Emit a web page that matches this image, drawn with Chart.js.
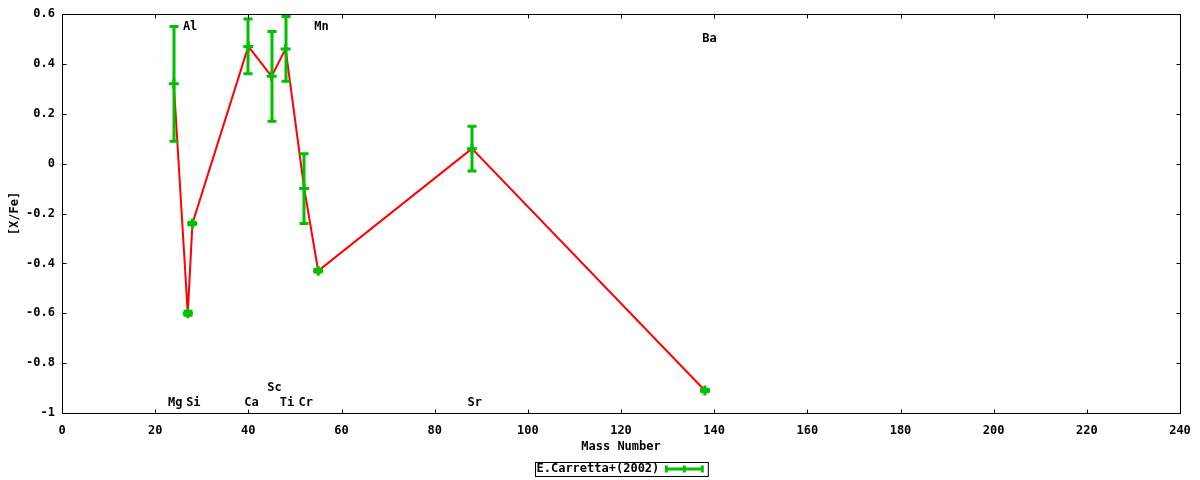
<!DOCTYPE html>
<html>
<head>
<meta charset="utf-8">
<script src="https://cdn.jsdelivr.net/npm/chart.js@4.4.0/dist/chart.umd.min.js"></script>
<style>
  body { margin: 0; background: #fff; }
  canvas { display: block; }
</style>
</head>
<body>
<canvas id="myChart" width="1200" height="480"></canvas>
<script>
// data
const massNumber = [24, 27, 28, 40, 45, 48, 52, 55, 88, 138];
const xFe = [0.32, -0.60, -0.24, 0.47, 0.35, 0.46, -0.10, -0.43, 0.06, -0.91];
const xFeErr = [0.23, 0.008, 0.005, 0.11, 0.18, 0.13, 0.14, 0.005, 0.09, 0.005];

// element labels (placed in data coordinates)
const elemNames = ['Mg', 'Al', 'Si', 'Ca', 'Sc', 'Ti', 'Cr', 'Mn', 'Sr', 'Ba'];
const elemLabelX = [24.3, 27.5, 28.2, 40.7, 45.6, 48.3, 52.3, 55.7, 88.6, 139.0];
const elemLabelY = [-0.96, 0.55, -0.96, -0.96, -0.9, -0.96, -0.96, 0.55, -0.96, 0.5];

const seriesName = 'E.Carretta+(2002)';
const GREEN = '#00c000';
const RED = '#ff0000';
const FONT = "bold 12px 'DejaVu Sans Mono', monospace";

Chart.defaults.font.family = "'DejaVu Sans Mono', monospace";
Chart.defaults.font.size = 12;
Chart.defaults.font.weight = 'bold';
Chart.defaults.color = '#000';

const points = massNumber.map((m, i) => ({ x: m, y: xFe[i] }));

// vertical error bars with caps
const errorBars = {
  id: 'errorBars',
  afterDatasetsDraw(chart) {
    const c = chart.ctx, xs = chart.scales.x, ys = chart.scales.y;
    c.save();
    c.strokeStyle = GREEN;
    c.lineWidth = 3;
    massNumber.forEach((m, i) => {
      const px = Math.round(xs.getPixelForValue(m));
      const top = ys.getPixelForValue(xFe[i] + xFeErr[i]);
      const bot = ys.getPixelForValue(xFe[i] - xFeErr[i]);
      c.beginPath();
      c.moveTo(px, top); c.lineTo(px, bot);
      c.moveTo(px - 4.5, top); c.lineTo(px + 4.5, top);
      c.moveTo(px - 4.5, bot); c.lineTo(px + 4.5, bot);
      c.stroke();
    });
    c.restore();
  }
};

// element names
const elemLabels = {
  id: 'elemLabels',
  afterDatasetsDraw(chart) {
    const c = chart.ctx, xs = chart.scales.x, ys = chart.scales.y;
    c.save();
    c.font = FONT;
    c.fillStyle = '#000';
    c.textAlign = 'center';
    c.textBaseline = 'middle';
    elemNames.forEach((n, i) => {
      c.fillText(n, xs.getPixelForValue(elemLabelX[i]), ys.getPixelForValue(elemLabelY[i]));
    });
    c.restore();
  }
};

// gnuplot-like border with inward ticks on all sides
const frame = {
  id: 'frame',
  afterDraw(chart) {
    const c = chart.ctx, a = chart.chartArea, xs = chart.scales.x, ys = chart.scales.y;
    const L = Math.round(a.left) + 0.5, R = Math.round(a.right) + 0.5;
    const T = Math.round(a.top) + 0.5, B = Math.round(a.bottom) + 0.5;
    c.save();
    c.strokeStyle = '#000';
    c.lineWidth = 1;
    c.strokeRect(L, T, R - L, B - T);
    c.beginPath();
    xs.ticks.forEach(t => {
      const px = Math.round(xs.getPixelForValue(t.value)) + 0.5;
      c.moveTo(px, B); c.lineTo(px, B - 4);
      c.moveTo(px, T); c.lineTo(px, T + 4);
    });
    ys.ticks.forEach(t => {
      const py = Math.round(ys.getPixelForValue(t.value)) + 0.5;
      c.moveTo(L, py); c.lineTo(L + 4, py);
      c.moveTo(R, py); c.lineTo(R - 4, py);
    });
    c.stroke();
    c.restore();
  }
};

// boxed key under the plot
const keyBox = {
  id: 'keyBox',
  afterDraw(chart) {
    const c = chart.ctx, a = chart.chartArea;
    c.save();
    c.font = FONT;
    const tw = c.measureText(seriesName).width;
    const symW = 36, gap = 8;
    const w = tw + gap + symW + 6, h = 14;
    const cx = (a.left + a.right) / 2, cy = 469;
    const x0 = Math.round(cx - w / 2) + 0.5, y0 = Math.round(cy - h / 2) + 0.5;
    c.strokeStyle = '#000';
    c.lineWidth = 1;
    c.strokeRect(x0, y0, w, h);
    c.fillStyle = '#000';
    c.textBaseline = 'middle';
    c.textAlign = 'left';
    c.fillText(seriesName, x0 + 1, cy);
    const s0 = x0 + tw + gap, s1 = s0 + symW;
    c.strokeStyle = GREEN;
    c.lineWidth = 3;
    c.beginPath();
    c.moveTo(s0, cy); c.lineTo(s1, cy);
    c.moveTo(s0, cy - 3.5); c.lineTo(s0, cy + 3.5);
    c.moveTo(s1, cy - 3.5); c.lineTo(s1, cy + 3.5);
    c.moveTo((s0 + s1) / 2, cy - 3.5); c.lineTo((s0 + s1) / 2, cy + 3.5);
    c.stroke();
    c.restore();
  }
};

new Chart(document.getElementById('myChart'), {
  type: 'scatter',
  data: {
    datasets: [{
      label: seriesName,
      data: points,
      showLine: false,
      pointStyle: 'cross',
      pointRadius: 5,
      borderWidth: 3,
      borderColor: GREEN,
      backgroundColor: GREEN,
      order: 1
    }, {
      label: 'line',
      data: points,
      showLine: true,
      tension: 0,
      pointRadius: 0,
      borderWidth: 2,
      borderColor: RED,
      order: 2
    }]
  },
  options: {
    responsive: false,
    animation: false,
    layout: { padding: { left: 0, right: 20, top: 14, bottom: 22 } },
    plugins: {
      legend: { display: false },
      tooltip: { enabled: false }
    },
    scales: {
      x: {
        type: 'linear', min: 0, max: 240,
        ticks: { stepSize: 20, autoSkip: false, maxRotation: 0, padding: 11 },
        grid: { display: false, drawTicks: false },
        border: { display: false },
        title: { display: true, text: 'Mass Number', padding: { top: 0, bottom: 4 } },
        afterFit(s) { s.height = 45; s.paddingLeft = 0; s.paddingRight = 0; }
      },
      y: {
        min: -1, max: 0.6,
        ticks: {
          stepSize: 0.2, padding: 7,
          callback: v => String(Math.round(v * 10) / 10)
        },
        grid: { display: false, drawTicks: false },
        border: { display: false },
        title: { display: true, text: '[X/Fe]', padding: { top: 8, bottom: 0 } },
        afterFit(s) { s.width = 62; s.paddingTop = 0; s.paddingBottom = 0; }
      }
    }
  },
  plugins: [errorBars, elemLabels, frame, keyBox]
});
</script>
</body>
</html>
